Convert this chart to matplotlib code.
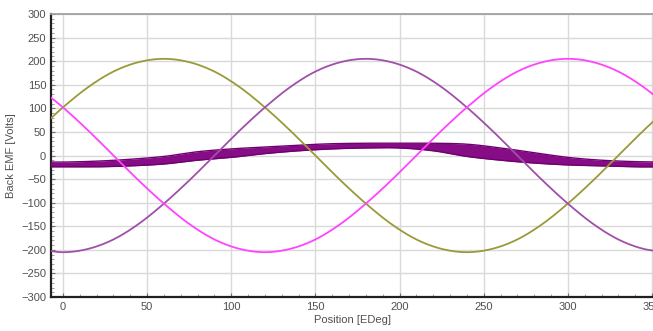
import matplotlib
matplotlib.use("Agg")
import matplotlib.pyplot as plt
import numpy as np
from matplotlib.ticker import MultipleLocator

plt.rcParams['font.family'] = ['Liberation Sans', 'DejaVu Sans']

# Phase curves (every 15 EDeg)
pos = [-15, 0, 15, 30, 45, 60, 75, 90, 105, 120, 135, 150, 165, 180, 195, 210,
       225, 240, 255, 270, 285, 300, 315, 330, 345, 360]
phase_olive = [53, 102, 145, 178, 198, 205, 198, 178, 145, 102, 53, 0, -53, -102,
               -145, -178, -198, -205, -198, -178, -145, -102, -53, 0, 53, 102]
phase_magenta = [145, 102, 53, 0, -53, -102, -145, -178, -198, -205, -198, -178,
                 -145, -102, -53, 0, 53, 102, 145, 178, 198, 205, 198, 178, 145, 102]
phase_purple = [-198, -205, -198, -178, -145, -102, -53, 0, 53, 102, 145, 178, 198,
                205, 198, 178, 145, 102, 53, 0, -53, -102, -145, -178, -198, -205]

# Thick neutral/ripple band (upper and lower edges)
band_pos = [-10, 0, 20, 40, 60, 80, 100, 120, 140, 160, 180, 200, 220, 240, 260,
            280, 300, 320, 340, 360]
band_hi = [-14, -14, -12, -8, -2, 8, 14, 18, 22, 25, 26, 26, 26, 24, 16, 6, -4,
           -10, -13, -14]
band_lo = [-24, -24, -24, -22, -18, -10, -4, 4, 10, 14, 16, 16, 10, -2, -10, -16,
           -20, -22, -24, -24]

xticks = [0, 50, 100, 150, 200, 250, 300, 350]
yticks = [300, 250, 200, 150, 100, 50, 0, -50, -100, -150, -200, -250, -300]


def catmull_rom(xp, yp, n=20):
    """Smooth curve through the read points (Catmull-Rom)."""
    xp = np.asarray(xp, float)
    yp = np.asarray(yp, float)
    P = np.column_stack([xp, yp])
    P = np.vstack([2 * P[0] - P[1], P, 2 * P[-1] - P[-2]])
    out = []
    t = np.linspace(0, 1, n, endpoint=False)[:, None]
    for i in range(1, len(P) - 2):
        p0, p1, p2, p3 = P[i - 1], P[i], P[i + 1], P[i + 2]
        seg = 0.5 * ((2 * p1) + (-p0 + p2) * t + (2 * p0 - 5 * p1 + 4 * p2 - p3) * t ** 2
                     + (-p0 + 3 * p1 - 3 * p2 + p3) * t ** 3)
        out.append(seg)
    out.append(P[-2][None, :])
    out = np.vstack(out)
    return out[:, 0], out[:, 1]


W, H = 653, 331
fig = plt.figure(figsize=(W / 100, H / 100), dpi=100)
ax = fig.add_axes([51 / W, (H - 297) / H, (W - 51) / W, 283 / H])

ax.set_xlim(-7.1, 350.6)
ax.set_ylim(-300, 300)

ax.set_xticks(xticks)
ax.set_yticks(yticks)
ax.xaxis.set_minor_locator(MultipleLocator(10))
ax.yaxis.set_minor_locator(MultipleLocator(10))
ax.grid(True, which='major', color='#d9d9d9', linewidth=1.0)
ax.set_axisbelow(True)

ax.tick_params(axis='both', which='major', labelsize=8, colors='#707070',
               labelcolor='#505050', length=3, width=0.8, direction='in')
ax.tick_params(axis='both', which='minor', length=2, width=0.6,
               colors='#909090', direction='in')

for sp in ['left', 'bottom']:
    ax.spines[sp].set_color('#202020')
    ax.spines[sp].set_linewidth(1.6)
ax.spines['top'].set_color('#a0a0a0')
ax.spines['top'].set_linewidth(1.3)
ax.spines['right'].set_visible(False)

bx, bh = catmull_rom(band_pos, band_hi)
_, bl = catmull_rom(band_pos, band_lo)
ax.fill_between(bx, bl, bh, color='#800080', alpha=0.95, linewidth=0, zorder=3)
ax.plot(bx, bh, color='#700070', linewidth=1.0, zorder=3)
ax.plot(bx, bl, color='#700070', linewidth=1.0, zorder=3)

for vals, col in [(phase_olive, '#9a9a3a'), (phase_purple, '#a050a8'),
                  (phase_magenta, '#ff44ff')]:
    xs, ys = catmull_rom(pos, vals)
    ax.plot(xs, ys, color=col, linewidth=1.3, zorder=4)

ax.set_xlabel('Position [EDeg]', fontsize=8, color='#505050', labelpad=2)
ax.set_ylabel('Back EMF [Volts]', fontsize=8, color='#505050', labelpad=4)

fig.savefig('out.png', dpi=100)
